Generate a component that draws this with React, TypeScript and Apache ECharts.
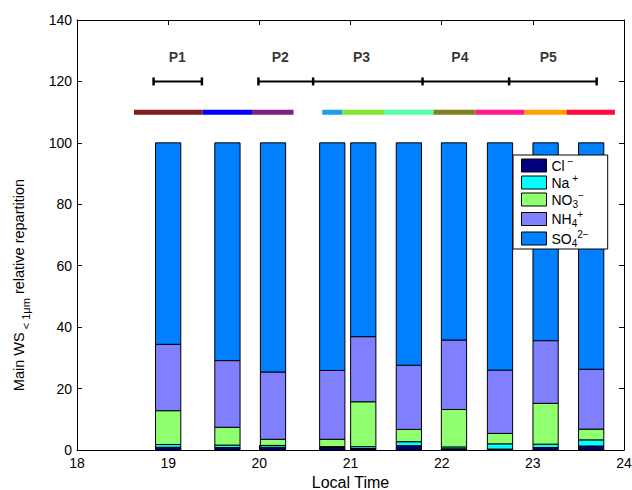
import React, { useEffect, useRef } from 'react';
import * as echarts from 'echarts';

// Sample centre times (local hours)
const times = [19.0, 19.65, 20.15, 20.8, 21.14, 21.64, 22.135, 22.64, 23.14, 23.64];

// Relative repartition (%) per species, bottom to top
const clValues = [0.9, 0.8, 0.9, 0.8, 0.5, 1.4, 0.4, 0.3, 0.8, 1.3];
const naValues = [0.9, 0.8, 0.6, 0.3, 0.6, 1.3, 0.6, 1.7, 1.1, 2.0];
const no3Values = [11.0, 5.8, 2.0, 2.4, 14.6, 4.0, 12.2, 3.4, 13.3, 3.5];
const nh4Values = [21.6, 21.7, 21.9, 22.4, 21.2, 20.9, 22.6, 20.6, 20.4, 19.5];
const so4Values = [65.6, 70.9, 74.6, 74.1, 63.1, 72.4, 64.2, 74.0, 64.4, 73.7];

const speciesNames = ['Cl', 'Na', 'NO3', 'NH4', 'SO4'];
const speciesColors = ['#000080', '#00FFFF', '#90FF70', '#8080FF', '#0080FF'];
const speciesLabels = [
  '{b|Cl}{sup| −}',
  '{b|Na}{sup| +}',
  '{b|NO}{sub|3}{sup|−}',
  '{b|NH}{sub|4}{sup|+}',
  '{b|SO}{sub|4}{sup|2−}',
];
const barWidthHours = 0.277;

// Period markers (y = 120)
const p1Bounds = [18.84, 19.37];
const chainBounds = [19.99, 20.59, 21.79, 22.74, 23.7];
const periodMarkerY = 120;
const periodLabels = ['P1', 'P2', 'P3', 'P4', 'P5'];
const periodLabelX = [19.1, 20.23, 21.12, 22.2, 23.17];
const periodLabelY = 128;

// Sampling interval coloured segments (y = 110)
const segStarts = [18.625, 19.375, 19.92, 20.69, 20.91, 21.37, 21.91, 22.37, 22.91, 23.37];
const segEnds = [19.375, 19.92, 20.375, 20.91, 21.37, 21.91, 22.37, 22.91, 23.37, 23.9];
const segColors = ['#801C1C', '#0000FF', '#801F80', '#1AA0E8', '#80E632', '#55FFA5', '#808020', '#FF1A90', '#FFA500', '#FF0A3C'];
const segY = 110;

const yTicks = { min: 0, max: 140, interval: 20 };
const xTicks = { min: 18, max: 24, interval: 1 };

const FONT = 'Liberation Sans, Arial, Helvetica, sans-serif';

export default function App() {
  const ref = useRef<HTMLDivElement>(null);
  useEffect(() => {
    const chart = echarts.init(ref.current!, null, { renderer: 'svg' });
    const valueSets = [clValues, naValues, no3Values, nh4Values, so4Values];

    // cumulative bottoms for the stacked bars
    const bottoms: number[][] = [];
    const running = times.map(() => 0);
    valueSets.forEach((vals) => {
      bottoms.push(running.slice());
      vals.forEach((v, j) => (running[j] += v));
    });

    const barSeries = speciesNames.map((name, i) => ({
      type: 'custom',
      name,
      xAxisIndex: 0,
      yAxisIndex: 0,
      encode: { x: 0, y: [1, 2] },
      data: times.map((t, j) => [t, bottoms[i][j], bottoms[i][j] + valueSets[i][j]]),
      itemStyle: { color: speciesColors[i], borderColor: '#000', borderWidth: 1 },
      renderItem: (params: any, api: any) => {
        const t = api.value(0);
        const lo = api.coord([t, api.value(1)]);
        const hi = api.coord([t, api.value(2)]);
        const w = api.size([barWidthHours, 0])[0];
        return {
          type: 'rect',
          shape: { x: lo[0] - w / 2, y: hi[1], width: w, height: lo[1] - hi[1] },
          style: { fill: speciesColors[i], stroke: '#000', lineWidth: 1 },
        };
      },
      silent: true,
      z: 2,
    }));

    const markerStyle = {
      type: 'line',
      xAxisIndex: 0,
      yAxisIndex: 0,
      symbol: 'rect',
      symbolSize: [2.5, 8],
      showSymbol: true,
      lineStyle: { color: '#000', width: 2 },
      itemStyle: { color: '#000' },
      silent: true,
      z: 3,
    };

    const segSeries = segStarts.map((s, i) => ({
      type: 'line',
      xAxisIndex: 0,
      yAxisIndex: 0,
      symbol: 'none',
      data: [[s, segY], [segEnds[i], segY]],
      lineStyle: { color: segColors[i], width: 5, cap: 'butt' },
      silent: true,
      z: 3,
    }));

    const axisCommon = {
      axisLine: { show: true, onZero: false, lineStyle: { color: '#000', width: 1 } },
      axisTick: { show: true, inside: true, length: 5, lineStyle: { color: '#000' } },
      splitLine: { show: false },
    };

    const option = {
      animation: false,
      backgroundColor: '#fff',
      textStyle: { fontFamily: FONT },
      grid: {
        left: 77,
        top: 20,
        width: 547,
        height: 430,
        containLabel: false,
        outerBoundsMode: 'none',
      },
      legend: {
        data: speciesNames,
        orient: 'vertical',
        left: 513,
        top: 155,
        itemWidth: 25,
        itemHeight: 13,
        itemGap: 0.5,
        padding: [1, 19, 1, 8],
        borderColor: '#000',
        borderWidth: 1,
        backgroundColor: '#fff',
        selectedMode: false,
        icon: 'rect',
        itemStyle: { borderColor: '#000', borderWidth: 1 },
        formatter: (n: string) => speciesLabels[speciesNames.indexOf(n)],
        textStyle: {
          color: '#000',
          fontFamily: FONT,
          rich: {
            b: { fontSize: 14, lineHeight: 19, color: '#000', fontFamily: FONT },
            sub: { fontSize: 10, verticalAlign: 'bottom', color: '#000', fontFamily: FONT },
            sup: { fontSize: 10, verticalAlign: 'top', color: '#000', fontFamily: FONT },
          },
        },
        z: 10,
      },
      xAxis: [
        {
          type: 'value',
          position: 'bottom',
          ...xTicks,
          ...axisCommon,
          axisLabel: { color: '#000', fontSize: 14, margin: 6, fontFamily: FONT },
          name: 'Local Time',
          nameLocation: 'middle',
          nameGap: 24,
          nameTextStyle: { color: '#000', fontSize: 16, fontFamily: FONT },
        },
        {
          type: 'value',
          position: 'top',
          ...xTicks,
          ...axisCommon,
          axisLabel: { show: false },
        },
      ],
      yAxis: [
        {
          type: 'value',
          position: 'left',
          ...yTicks,
          ...axisCommon,
          axisLabel: { color: '#000', fontSize: 14, margin: 5, fontFamily: FONT },
          name: '{b|Main WS}{sub| < 1μm}{b| relative repartition}',
          nameLocation: 'middle',
          nameGap: 46,
          nameTextStyle: {
            color: '#000',
            fontFamily: FONT,
            padding: [0, 100, 0, 0],
            rich: {
              b: { fontSize: 14.5, lineHeight: 24, color: '#000', fontFamily: FONT },
              sub: { fontSize: 11, verticalAlign: 'bottom', color: '#000', fontFamily: FONT },
            },
          },
        },
        {
          type: 'value',
          position: 'right',
          ...yTicks,
          ...axisCommon,
          axisLabel: { show: false },
        },
      ],
      series: [
        ...barSeries,
        { ...markerStyle, data: p1Bounds.map((x) => [x, periodMarkerY]) },
        { ...markerStyle, data: chainBounds.map((x) => [x, periodMarkerY]) },
        ...segSeries,
        {
          type: 'scatter',
          xAxisIndex: 0,
          yAxisIndex: 0,
          symbolSize: 0,
          silent: true,
          data: periodLabelX.map((x) => [x, periodLabelY]),
          label: {
            show: true,
            position: 'inside',
            formatter: (p: any) => periodLabels[p.dataIndex],
            color: '#000',
            fontWeight: 'bold',
            fontSize: 14,
            fontFamily: FONT,
          },
          z: 4,
        },
      ],
    };

    chart.setOption(option as any);
    return () => chart.dispose();
  }, []);
  return (
    <div
      ref={ref}
      style={{ position: 'fixed', left: 0, top: 0, width: 632, height: 490, background: '#fff' }}
    />
  );
}
